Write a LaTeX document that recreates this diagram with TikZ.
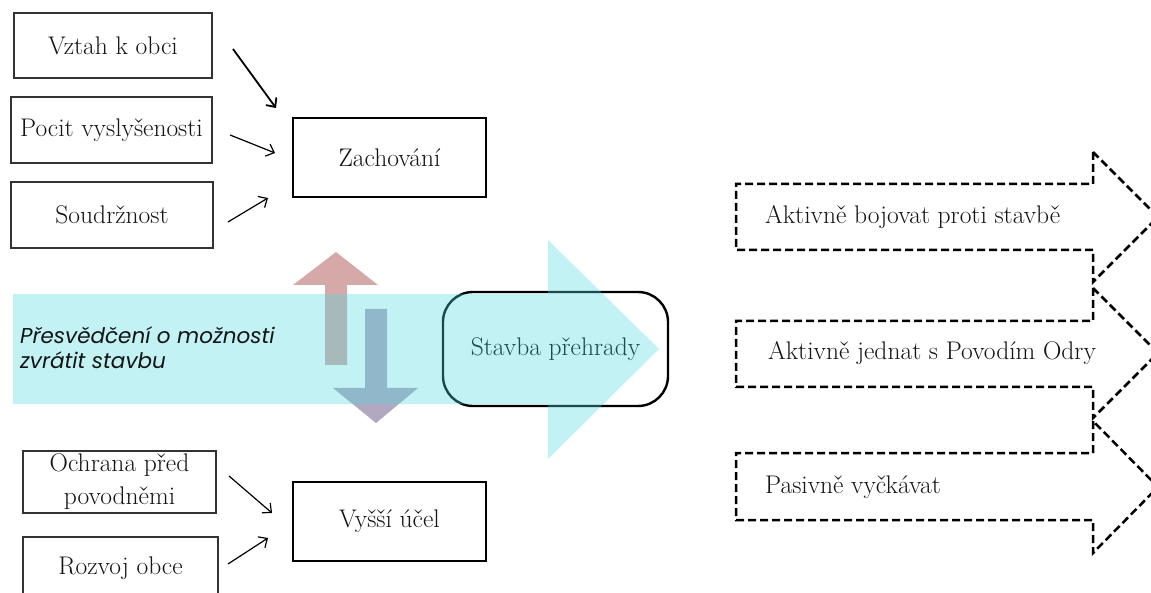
\documentclass[tikz,border=0pt]{standalone}
\usepackage{fontspec}
\newfontfamily\bandfont{Poppins}
\usetikzlibrary{arrows.meta}
\definecolor{bandcyan}{HTML}{4FD9DF}
\definecolor{uppink}{HTML}{D6A9A9}
\definecolor{downgray}{HTML}{B2A8C0}
\definecolor{txt}{HTML}{141414}
\begin{document}
\begin{tikzpicture}[x=1pt,y=-1pt,
  lbl/.style={font=\fontsize{25.5}{33}\selectfont, text=txt},
  leftbox/.style={lbl, draw=black!80, line width=1.3pt, inner sep=0pt, align=center},
  mainbox/.style={lbl, draw=black, line width=2.6pt, inner sep=0pt, minimum width=193pt, minimum height=79pt},
  conn/.style={line width=1.2pt, -{Straight Barb[length=7pt,width=13pt]}},
  dasharrow/.style={draw=black, line width=2.5pt, dash pattern=on 8pt off 4pt, line join=miter},
  ]
\useasboundingbox (0,0) rectangle (1151,593);
\clip (0,0) rectangle (1151,593);
\fill[white] (0,0) rectangle (1151,593);

% left boxes
\node[leftbox, minimum width=198pt, minimum height=65pt] (vztah) at (113,45.5) {Vztah k obci};
\node[leftbox, minimum width=201pt, minimum height=66pt] (pocit) at (111.5,130) {Pocit vyslyšenosti};
\node[leftbox, minimum width=202pt, minimum height=66pt] (soud) at (112,215) {Soudržnost};
\node[leftbox, minimum width=193pt, minimum height=62pt] (ochr) at (119.5,482) {Ochrana před\\povodněmi};
\node[leftbox, minimum width=195pt, minimum height=62pt] (rozv) at (120.5,568) {Rozvoj obce};

% main boxes
\node[mainbox] (zach) at (389.5,157.5) {Zachování};
\node[mainbox] (vyssi) at (389.5,521.5) {Vyšší účel};

% connectors
\coordinate (c1s) at (233,49);  \coordinate (c1e) at (276,108);
\coordinate (c2s) at (230,135); \coordinate (c2e) at (275,153);
\coordinate (c3s) at (228,222); \coordinate (c3e) at (268,198);
\coordinate (c4s) at (229,476); \coordinate (c4e) at (272,513);
\coordinate (c5s) at (228,564); \coordinate (c5e) at (268,538);
\draw[conn, line width=1.8pt] (c1s) -- (c1e);
\draw[conn] (c2s) -- (c2e);
\draw[conn] (c3s) -- (c3e);
\draw[conn] (c4s) -- (c4e);
\draw[conn] (c5s) -- (c5e);

% Stavba box (under the big arrow)
\node[lbl, draw=black, fill=white, line width=2.4pt, rounded corners=30pt,
      minimum width=225pt, minimum height=114pt, inner sep=0pt, text=black] (stavba) at (555.5,349) {Stavba přehrady};

% up / down arrows
\fill[uppink] (325,365) -- (325,285) -- (293,285) -- (336,252) -- (378,285) -- (347,285) -- (347,365) -- cycle;
\fill[downgray] (365,309) -- (365,388) -- (333,388) -- (376,423) -- (418,388) -- (387,388) -- (387,309) -- cycle;

% big translucent arrow
\fill[bandcyan, opacity=0.34] (13,294) -- (548,294) -- (548,240) -- (659,349) -- (548,459) -- (548,404) -- (13,404) -- cycle;

% band text
\node[font=\bandfont\itshape\fontsize{21.5}{25}\selectfont, text=txt, align=left, anchor=west, inner sep=0pt] (presv) at (20,348) {Přesvědčení o možnosti\\zvrátit stavbu};

% dashed arrows on the right
\draw[dasharrow] (1093,152) -- (1093,184) -- (736,184) -- (736,250) -- (1093,250) -- (1093,282) -- (1158,217) -- cycle;
\draw[dasharrow] (1093,288) -- (1093,321) -- (736,321) -- (736,387) -- (1093,387) -- (1093,418) -- (1158,353) -- cycle;
\draw[dasharrow] (1093,421) -- (1093,453) -- (736,453) -- (736,520) -- (1093,520) -- (1093,553) -- (1158,487) -- cycle;
\node[lbl, anchor=west, inner sep=0pt] (akt1) at (765,217) {Aktivně bojovat proti stavbě};
\node[lbl, anchor=west, inner sep=0pt] (akt2) at (768,353) {Aktivně jednat s Povodím Odry};
\node[lbl, anchor=west, inner sep=0pt] (pas) at (765,487) {Pasivně vyčkávat};
\end{tikzpicture}
\end{document}
